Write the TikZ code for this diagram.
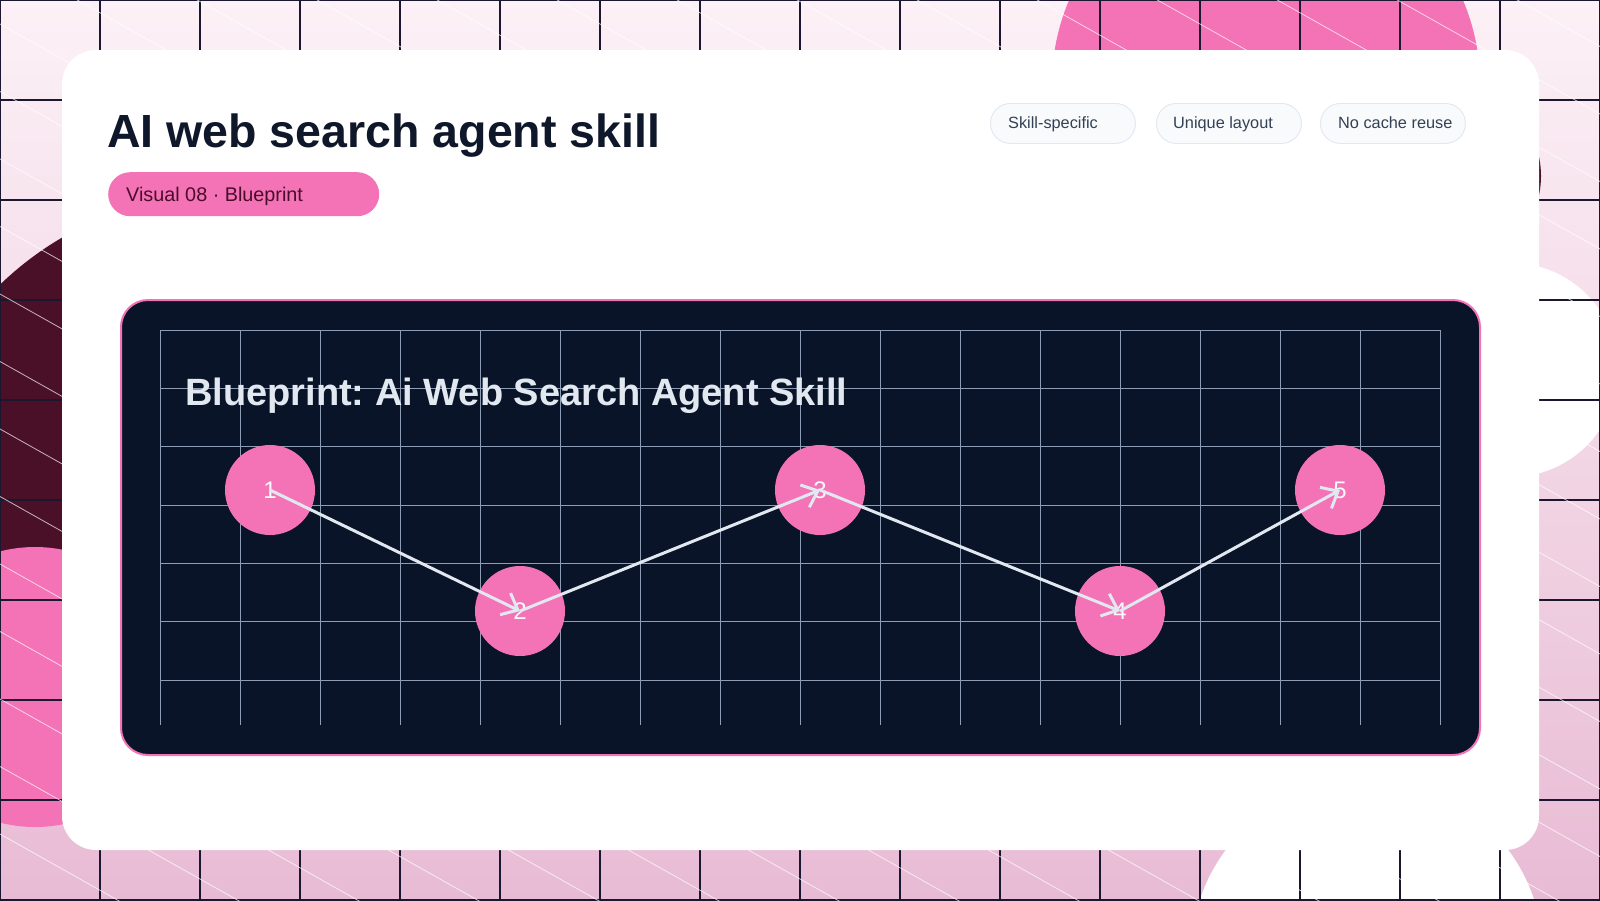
\documentclass[tikz,border=0pt]{standalone}
\usepackage{fontspec}
\setmainfont{Liberation Sans}
\usetikzlibrary{arrows.meta}
\definecolor{bgtop}{HTML}{FCF1F6}
\definecolor{bgbot}{HTML}{E8BBD4}
\definecolor{maroon}{HTML}{4A1028}
\definecolor{pinkc}{HTML}{F472B6}
\definecolor{gridc}{HTML}{1C1730}
\definecolor{navy}{HTML}{0A1429}
\definecolor{inkc}{HTML}{0F172A}
\definecolor{chipfill}{HTML}{F8FAFC}
\definecolor{chipline}{HTML}{E2E8F0}
\definecolor{chiptext}{HTML}{334155}
\definecolor{pilltext}{HTML}{4A0D2A}
\definecolor{pgridc}{HTML}{8E9DB6}
\definecolor{lightc}{HTML}{E2E8F0}
\definecolor{numc}{HTML}{F8FAFC}
\frenchspacing
\tikzset{
  bggrid/.style={draw=gridc, line width=1.1pt},
  diagline/.style={draw=white, line width=0.8pt, opacity=0.7},
  pgrid/.style={draw=pgridc, line width=1pt},
  chipbox/.style={draw=chipline, line width=0.9pt, fill=chipfill, rounded corners=20pt, minimum width=145pt, minimum height=40pt, inner sep=0pt, anchor=north west},
  chiptxt/.style={anchor=base west, inner sep=0pt, text=chiptext, font=\fontsize{16.3pt}{20pt}\selectfont},
  pillbox/.style={fill=pinkc, rounded corners=22pt, minimum width=271pt, minimum height=44pt, inner sep=0pt, anchor=north west},
  stepnode/.style={circle, fill=pinkc, minimum size=90pt, inner sep=0pt, text=numc, font=\fontsize{24pt}{27pt}\selectfont},
  flow/.style={draw=lightc, line width=3pt, -{Straight Barb[length=14pt,width=24pt]}}
}
\begin{document}
\begin{tikzpicture}[x=1pt,y=-1pt]
\useasboundingbox (0,0) rectangle (1600,900);
\begin{scope}
\clip (0,0) rectangle (1600,900);
\shade[top color=bgtop, bottom color=bgbot] (0,0) rectangle (1600,900);
\fill[maroon] (227,520) circle[radius=327pt];
\fill[pinkc] (35,687) circle[radius=140pt];
\fill[pinkc] (1266,84) circle[radius=214pt];
\fill[maroon] (1450,176) circle[radius=91pt];
\fill[white] (1511,370) circle[radius=107pt];
\fill[white] (1367,955) circle[radius=176pt];
\foreach \x in {0,100,...,1600} \draw[bggrid] (\x,0) -- (\x,900);
\foreach \y in {0,100,...,900} \draw[bggrid] (0,\y) -- (1600,\y);
\foreach \k in {-18,...,9} \draw[diagline] (0,294+67.5*\k) -- (1600,1194+67.5*\k);
\end{scope}
% card
\fill[white, rounded corners=34pt] (62,50) rectangle (1539,850);
% title
\node[anchor=base west, inner sep=0pt, text=inkc, font=\fontsize{46.5pt}{54pt}\selectfont\bfseries] (title) at (107,147) {AI web search agent skill};
% pill
\node[pillbox] (pill) at (108,172) {};
\node[anchor=base west, inner sep=0pt, text=pilltext, font=\fontsize{19.8pt}{23pt}\selectfont] (pilltxt) at (126,201) {Visual 08 · Blueprint};
% chips
\node[chipbox] (chip1) at (990,103) {};
\node[chiptxt] (chip1t) at (1008,128) {Skill-specific};
\node[chipbox] (chip2) at (1156,103) {};
\node[chiptxt] (chip2t) at (1173,128) {Unique layout};
\node[chipbox] (chip3) at (1320,103) {};
\node[chiptxt] (chip3t) at (1338,128) {No cache reuse};
% panel
\draw[fill=navy, draw=pinkc, line width=2pt, rounded corners=27pt] (121,300) rectangle (1480,755);
\foreach \x in {160,240,...,1440} \draw[pgrid] (\x,330) -- (\x,725);
\foreach \i in {0,...,6} \draw[pgrid] (160,330+58.333*\i) -- (1440,330+58.333*\i);
\node[anchor=base west, inner sep=0pt, text=lightc, font=\fontsize{38pt}{45pt}\selectfont\bfseries] (ptitle) at (185,405) {Blueprint: Ai Web Search Agent Skill};
% steps
\node[stepnode] (n1) at (270,490) {1};
\node[stepnode] (n2) at (520,611) {2};
\node[stepnode] (n3) at (820,490) {3};
\node[stepnode] (n4) at (1120,611) {4};
\node[stepnode] (n5) at (1340,490) {5};
\draw[flow] (n1.center) -- (n2.center);
\draw[flow] (n2.center) -- (n3.center);
\draw[flow] (n3.center) -- (n4.center);
\draw[flow] (n4.center) -- (n5.center);
\end{tikzpicture}
\end{document}
